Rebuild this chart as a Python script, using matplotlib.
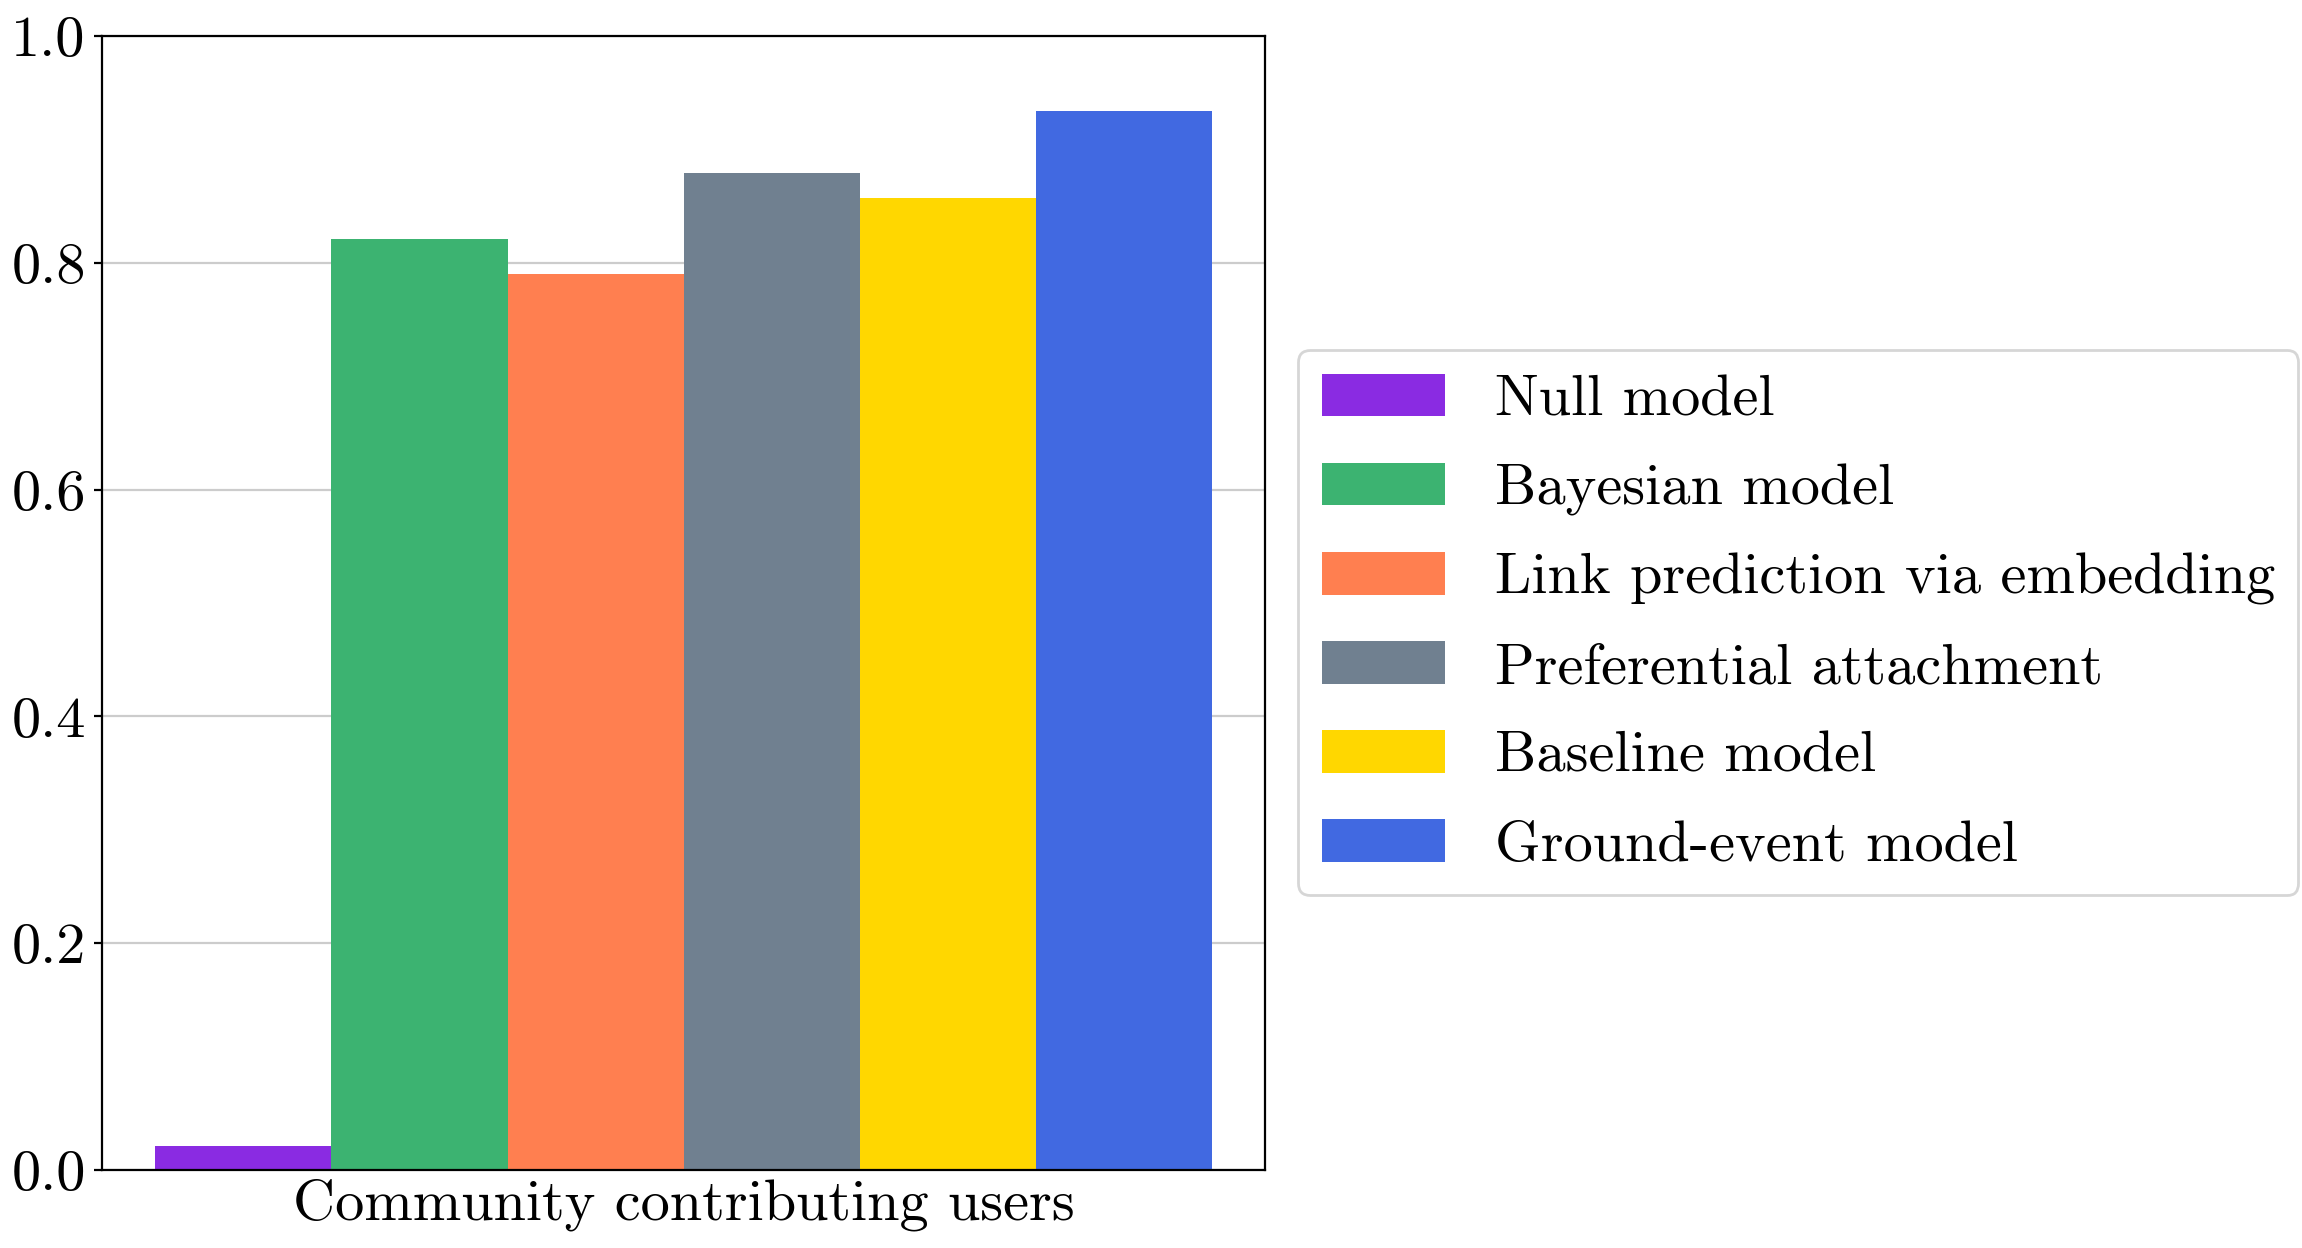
import matplotlib
matplotlib.use("Agg")
import matplotlib.pyplot as plt
import numpy as np

plt.rcParams['font.family'] = ['cmr10', 'DejaVu Serif']
plt.rcParams['mathtext.fontset'] = 'cm'
plt.rcParams['axes.formatter.use_mathtext'] = True

category = "Community contributing users"
models = ["Null model", "Bayesian model", "Link prediction via embedding",
          "Preferential attachment", "Baseline model", "Ground-event model"]
values = [0.021, 0.821, 0.790, 0.879, 0.857, 0.934]
colors = ["blueviolet", "mediumseagreen", "coral", "slategray", "gold", "royalblue"]
yticks = [0.0, 0.2, 0.4, 0.6, 0.8, 1.0]

FS = 21

fig = plt.figure(figsize=(11.51, 6.24), dpi=200)
ax = fig.add_axes([0.0445, 0.0625, 0.505, 0.9085])

width = 0.15
n = len(models)
offsets = (np.arange(n) - (n - 1) / 2) * width
for off, v, c, lab in zip(offsets, values, colors, models):
    ax.bar(off, v, width=width, color=c, label=lab, zorder=2)

ax.set_ylim(0, 1.0)
ax.set_yticks(yticks)
ax.set_yticklabels([f"{t:.1f}" for t in yticks])
ax.set_xticks([0])
ax.set_xticklabels([category])
ax.tick_params(axis='x', length=0, labelsize=FS, pad=3)
ax.tick_params(axis='y', length=3, labelsize=FS, pad=3)
ax.yaxis.grid(True, color='#cccccc', linewidth=0.8, zorder=0)
ax.set_axisbelow(True)
for s in ax.spines.values():
    s.set_linewidth(0.8)

fig.legend(loc='center left', bbox_to_anchor=(0.564, 0.501),
           bbox_transform=fig.transFigure, fontsize=FS, frameon=True,
           borderaxespad=0, labelspacing=0.62, handlelength=2.12,
           handleheight=0.75, handletextpad=0.85)

fig.savefig("out.png", dpi=200)
